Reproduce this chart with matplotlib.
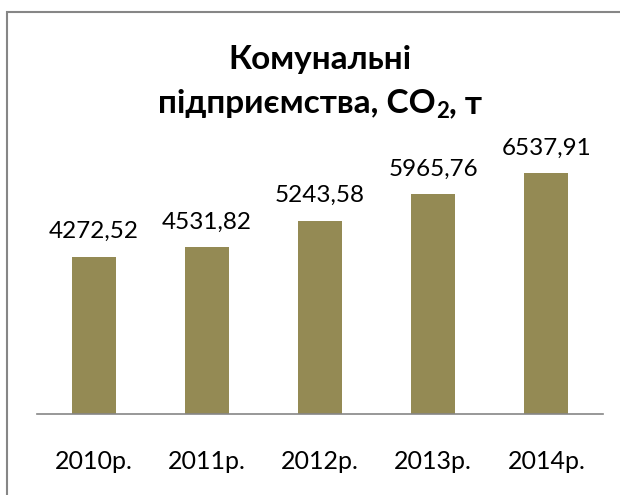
import matplotlib
matplotlib.use("Agg")
import matplotlib.pyplot as plt
from matplotlib.patches import Rectangle

categories = ["2010р.", "2011р.", "2012р.", "2013р.", "2014р."]
values = [4272.52, 4531.82, 5243.58, 5965.76, 6537.91]
labels = ["4272,52", "4531,82", "5243,58", "5965,76", "6537,91"]

plt.rcParams['font.family'] = ['Lato', 'DejaVu Sans']

W, H = 620, 495
fig = plt.figure(figsize=(W/100, H/100), dpi=100)
fig.patch.set_facecolor('white')

# outer border (only left/top visible)
fig.patches.append(Rectangle((7/W, -0.1), 1.2, 1 - 12/H + 0.1, transform=fig.transFigure,
                             fill=False, edgecolor='#868686', linewidth=1.5))

ax = fig.add_axes([37/W, 81/H, 566/W, 258/H])
x = range(len(categories))
ax.bar(x, values, width=0.39, color='#948A54')
ax.set_xlim(-0.5, len(categories) - 0.5)
ax.set_ylim(0, 7000)
for s in ['top', 'right', 'left']:
    ax.spines[s].set_visible(False)
ax.spines['bottom'].set_color('#868686')
ax.spines['bottom'].set_linewidth(1.2)
ax.set_yticks([])
ax.set_xticks(list(x))
ax.set_xticklabels(categories, fontsize=18)
ax.tick_params(axis='x', length=0, pad=26)
ax.patch.set_alpha(0)

for xi, v, lab in zip(x, values, labels):
    ax.annotate(lab, (xi, v), xytext=(0, 18), textcoords='offset points',
                ha='center', va='center', fontsize=17.5)

fig.text(320/W, 1 - 59/H, "Комунальні", ha='center', va='center',
         fontsize=24, fontweight='bold')

# second title line with subscript, composed of pieces
renderer = fig.canvas.get_renderer()
ybase = 1 - 113/H
pieces = [("підприємства, CO", 24, 0), ("2", 16, -5), (", т", 24, 0)]
objs = []
widths = []
for txt, fs, dy in pieces:
    t = fig.text(0, ybase + dy/H, txt, ha='left', va='baseline', fontsize=fs, fontweight='bold')
    objs.append(t)
    widths.append(t.get_window_extent(renderer).width)
total = sum(widths)
xcur = 320 - total/2
for t, w in zip(objs, widths):
    t.set_x(xcur/W)
    xcur += w

fig.savefig("out.png", dpi=100)
